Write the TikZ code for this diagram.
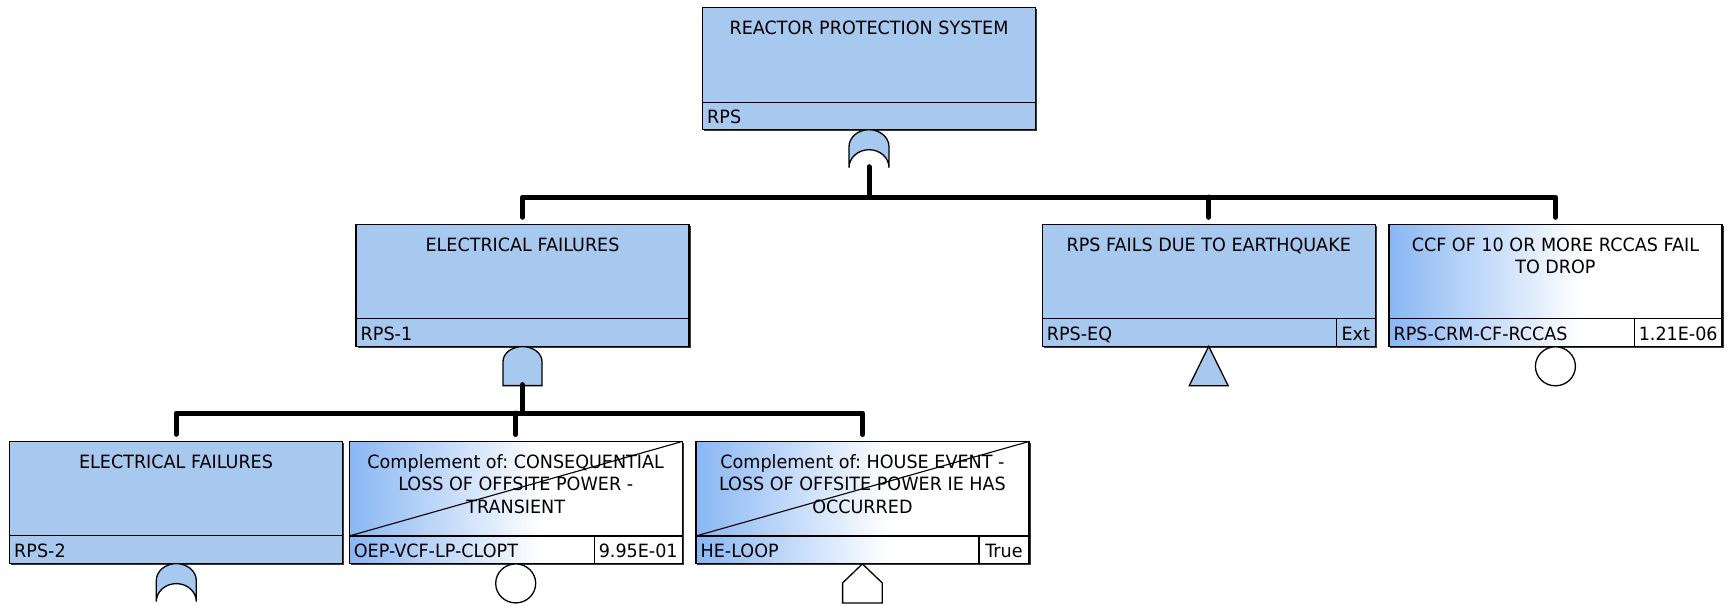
\documentclass[tikz,border=0pt]{standalone}
\usepackage{fontspec}
\setmainfont{DejaVu Sans}[FakeStretch=0.96]
\frenchspacing
\usetikzlibrary{calc}

\definecolor{evfill}{HTML}{A7C9EF}
\definecolor{gradblue}{HTML}{7DAFF2}
\definecolor{shadowgray}{HTML}{3A3A3A}

% left-to-right fade used by basic events
\pgfdeclarehorizontalshading{evgrad}{100bp}{color(0bp)=(gradblue); color(22bp)=(gradblue); color(54bp)=(white); color(100bp)=(white)}

\tikzset{
  evtext/.style={font=\fontsize{18.3}{22.5}\selectfont, inner sep=0pt},
  evbox/.style={shape=rectangle, minimum width=333pt, minimum height=122pt, inner sep=0pt, outer sep=0pt},
  plainfill/.style={fill=evfill},
  gradfill/.style={shade, shading=evgrad},
  evline/.style={draw=black, line width=1.2pt},
  diagline/.style={draw=black, line width=1.1pt},
  conn/.style={draw=black, line width=5pt, line cap=round, line join=round},
  gateline/.style={draw=black, line width=1.3pt},
  orgate/.pic={
    \draw[gateline, fill=evfill] (-20,17) .. controls (-20,7.6) and (-11,0) .. (0,0)
      .. controls (11,0) and (20,7.6) .. (20,17) -- (20,38)
      .. controls (20,28) and (11,20) .. (0,20)
      .. controls (-11,20) and (-20,28) .. (-20,38) -- cycle;
    \coordinate (-out) at (0,37);
  },
  andgate/.pic={
    \draw[gateline, fill=evfill] (-19.5,15) .. controls (-19.5,6.7) and (-10.8,0) .. (0,0)
      .. controls (10.8,0) and (19.5,6.7) .. (19.5,15) -- (19.5,39) -- (-19.5,39) -- cycle;
    \coordinate (-out) at (0,38);
  },
  transfer/.pic={
    \draw[gateline, fill=evfill] (0,0) -- (19.5,39.5) -- (-19.5,39.5) -- cycle;
  },
  basic/.pic={
    \draw[gateline, fill=white] (0,20) ellipse [x radius=20, y radius=19.5];
  },
  house/.pic={
    \draw[gateline, fill=white] (0,0.5) -- (19.8,19.5) -- (19.8,39.5) -- (-19.8,39.5) -- (-19.8,19.5) -- cycle;
  },
}

% event box: #1 name, #2 centre x, #3 top y, #4 fill style, #5 title,
% #6 identifier, #7 value text, #8 value cell width (0 = none), #9 value cell fill
\newcommand{\ftevent}[9]{%
  \fill[shadowgray] (#2-165,#3+1.6) rectangle (#2+168.1,#3+123.6);
  \node[evbox,#4] (#1) at (#2,#3+61) {};
  \ifdim #8pt>0pt
    \fill[#9] ($(#1.south east)+(-#8,0)$) rectangle ($(#1.south east)+(0,-27.5)$);
    \draw[evline] ($(#1.south east)+(-#8,0)$) -- ($(#1.south east)+(-#8,-27.5)$);
    \node[evtext, anchor=base] (#1-val) at ($(#1.south east)+(-#8/2,-6)$) {#7};
  \fi
  \draw[evline] ($(#1.south west)+(0,-27.5)$) -- ($(#1.south east)+(0,-27.5)$);
  \draw[evline] (#1.north west) rectangle (#1.south east);
  \node[evtext, anchor=north, align=center] (#1-title) at ($(#1.north)+(0,10.95)$) {\strut #5};
  \node[evtext, anchor=base west] (#1-id) at ($(#1.south west)+(4.5,-6)$) {#6};
}
% complemented event: diagonal stroke over the description area
\newcommand{\ftcomplement}[1]{%
  \draw[diagline] ($(#1.south west)+(0,-27.5)$) -- (#1.north east);
}

\begin{document}
\begin{tikzpicture}[x=1pt,y=-1pt]
\fill[white] (0,0) rectangle (1732,605);
\useasboundingbox (0,0) rectangle (1732,605);

% ---- top event
\ftevent{rps}{869}{7.7}{plainfill}{REACTOR PROTECTION SYSTEM}{RPS}{}{0}{white}
\pic (g0) at (869,129.7) {orgate};

% ---- second level
\ftevent{rps1}{522.5}{224.3}{plainfill}{ELECTRICAL FAILURES}{RPS-1}{}{0}{white}
\pic (g1) at (522.5,346.6) {andgate};

\ftevent{rpseq}{1208.7}{224.3}{plainfill}{RPS FAILS DUE TO EARTHQUAKE}{RPS-EQ}{Ext}{39}{evfill}
\pic (t1) at (1208.7,346.3) {transfer};

\ftevent{ccf}{1555.4}{224.3}{gradfill}{CCF OF 10 OR MORE RCCAS FAIL\\TO DROP}{RPS-CRM-CF-RCCAS}{1.21E-06}{87.4}{white}
\pic (b1) at (1555.4,346.3) {basic};

% ---- third level
\ftevent{rps2}{176}{441.3}{plainfill}{ELECTRICAL FAILURES}{RPS-2}{}{0}{white}
\pic (g2) at (176.3,563.6) {orgate};

\ftevent{oep}{515.7}{441.5}{gradfill}{Complement of: CONSEQUENTIAL\\LOSS OF OFFSITE POWER -\\TRANSIENT}{OEP-VCF-LP-CLOPT}{9.95E-01}{88}{white}
\ftcomplement{oep}
\pic (b2) at (515.7,563.4) {basic};

\ftevent{he}{862.4}{441.5}{gradfill}{Complement of: HOUSE EVENT -\\LOSS OF OFFSITE POWER IE HAS\\OCCURRED}{HE-LOOP}{True}{50}{white}
\ftcomplement{he}
\pic (h1) at (862.4,563.4) {house};

% ---- connectors
\coordinate (j1) at (869,197);
\draw[conn] (g0-out) -- (j1);
\draw[conn] ($(rps1.north)+(0,-7)$) -- (rps1.north |- j1) -- (ccf.north |- j1) -- ($(ccf.north)+(0,-7)$);
\draw[conn] (rpseq.north |- j1) -- ($(rpseq.north)+(0,-7)$);

\coordinate (j2) at (522.5,413);
\draw[conn] (g1-out) -- (j2);
\draw[conn] ($(rps2.north)+(0,-7)$) -- (rps2.north |- j2) -- (he.north |- j2) -- ($(he.north)+(0,-7)$);
\draw[conn] (oep.north |- j2) -- ($(oep.north)+(0,-7)$);
\end{tikzpicture}
\end{document}
